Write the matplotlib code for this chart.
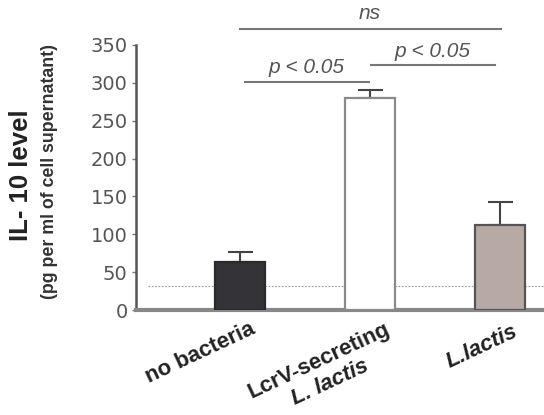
import matplotlib
matplotlib.use("Agg")
import matplotlib.pyplot as plt

plt.rcParams['font.family'] = ['Liberation Sans', 'DejaVu Sans']

# IL-10 measurements per condition
groups = ["no bacteria", "LcrV-secreting", "L.lactis"]
il10_mean = [64, 280, 112]
il10_err = [13, 11, 31]
detection_limit = 32
yticks = [0, 50, 100, 150, 200, 250, 300, 350]

bar_colors = ["#333338", "#ffffff", "#b7aaa5"]
edge_colors = ["#2a2a2e", "#8a8a8a", "#555555"]

fig = plt.figure(figsize=(5.44, 4.15), dpi=100)
ax = fig.add_axes([0.25, 0.253, 0.75, 0.6386])

x = list(range(len(groups)))
ax.bar(x, il10_mean, width=0.385, color=bar_colors, edgecolor=edge_colors,
       linewidth=1.6, zorder=3)
ax.errorbar(x, il10_mean, yerr=[[0] * len(x), il10_err], fmt="none",
            ecolor="#444444", elinewidth=1.5, capsize=9, capthick=1.5, zorder=2)

ax.axhline(detection_limit, xmin=0.03, xmax=1, color="#999999",
           linestyle=(0, (1.5, 1.5)), linewidth=0.8, zorder=1)

ax.set_xlim(-0.8, 2.338)
ax.set_ylim(0, 350)
ax.set_yticks(yticks)
ax.set_yticklabels([str(v) for v in yticks], fontsize=14, color="#555555",
                   family="DejaVu Sans")
ax.tick_params(axis="y", direction="out", length=3, width=1, color="#777777", pad=3)
ax.set_xticks([])

for s in ["top", "right"]:
    ax.spines[s].set_visible(False)
ax.spines["left"].set_color("#555555")
ax.spines["left"].set_linewidth(1.8)
ax.spines["bottom"].set_color("#888888")
ax.spines["bottom"].set_linewidth(3)

# category labels, rotated under each bar
lab_kw = dict(xycoords=("data", "axes fraction"), textcoords="offset points",
              rotation=25, rotation_mode="anchor", ha="right", va="top",
              fontsize=16, fontweight="bold", color="#222222",
              annotation_clip=False)
ax.annotate(groups[0], (x[0], 0), xytext=(7, -6), **lab_kw)
ax.annotate(groups[1], (x[1], 0), xytext=(10, -6), **lab_kw)
ax.annotate("L. lactis", (x[1], 0), xytext=(-5, -33), style="italic", **lab_kw)
ax.annotate(groups[2], (x[2], 0), xytext=(9, -8), style="italic", **lab_kw)

# significance brackets
sig_kw = dict(color="#777777", linewidth=1.5, clip_on=False)
txt_kw = dict(ha="center", va="center", style="italic", fontsize=15,
              color="#555555", clip_on=False)
ax.plot([0.0, 2.01], [371.5, 371.5], **sig_kw)
ax.text(1.0, 391, "ns", **txt_kw)
ax.plot([0.04, 0.995], [301.5, 301.5], **sig_kw)
ax.text(0.51, 320, "p < 0.05", **txt_kw)
ax.plot([1.005, 1.96], [323.6, 323.6], **sig_kw)
ax.text(1.48, 342, "p < 0.05", **txt_kw)

fig.text(21 / 544, 1 - 175 / 415, "IL- 10 level", rotation=90, ha="center",
         va="center", fontsize=18.5, fontweight="bold", color="#222222")
fig.text(50 / 544, 1 - 171 / 415, "(pg per ml of cell supernatant)", rotation=90,
         ha="center", va="center", fontsize=12.8, fontweight="bold", color="#333333")

fig.savefig("out.png", dpi=100)
